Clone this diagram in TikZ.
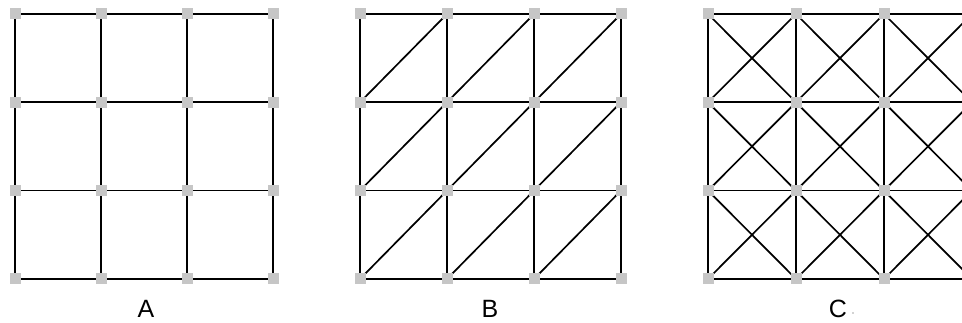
\documentclass[tikz,border=0pt]{standalone}
\usepackage{fontspec}
\setmainfont{Liberation Sans}
\tikzset{
  gridline/.style={line width=1.7pt, black},
  vertexmark/.style={draw=none, fill=gray!45, minimum size=11pt, inner sep=0pt, shape=rectangle},
  panellabel/.style={font=\fontsize{25}{25}\selectfont, anchor=base, inner sep=0pt},
}
\begin{document}
\begin{tikzpicture}[x=1pt,y=-1pt]
\useasboundingbox (0,0) rectangle (962,323);
\clip (0,0) rectangle (962,323);
% row positions
\def\ya{14}\def\yb{102.3}\def\yc{190.6}\def\yd{279}
% ---- coordinates ----
\foreach \p/\xa/\xb/\xc/\xd in {A/15/101/187/273, B/360/447/534/621, C/708/796/884/972}{
  \foreach \i/\xx in {0/\xa,1/\xb,2/\xc,3/\xd}{
    \foreach \j/\yy in {0/\ya,1/\yb,2/\yc,3/\yd}{
      \coordinate (\p-\i-\j) at (\xx,\yy);
    }
  }
}
% ---- grid lines (all panels) ----
\foreach \p in {A,B,C}{
  \foreach \i in {0,1,2,3}{
    \draw[gridline] (\p-\i-0) -- (\p-\i-3);
    \draw[gridline] (\p-0-\i) -- (\p-3-\i);
  }
}
% ---- B diagonals ----
\foreach \i/\ni in {0/1,1/2,2/3}{
  \foreach \j/\nj in {0/1,1/2,2/3}{
    \draw[gridline] (B-\i-\nj) -- (B-\ni-\j);
  }
}
% ---- C diagonals ----
\foreach \i/\ni in {0/1,1/2,2/3}{
  \foreach \j/\nj in {0/1,1/2,2/3}{
    \draw[gridline] (C-\i-\nj) -- (C-\ni-\j);
    \draw[gridline] (C-\i-\j) -- (C-\ni-\nj);
  }
}
% ---- vertex markers ----
\foreach \p in {A,B,C}{
  \foreach \i in {0,1,2,3}{
    \foreach \j in {0,1,2,3}{
      \node[vertexmark] (\p-m-\i-\j) at (\p-\i-\j) {};
    }
  }
}
% ---- labels ----
\node[panellabel] (labA) at (146,318) {A};
\node[panellabel] (labB) at (490,318) {B};
\node[panellabel] (labC) at (838,318) {C};
\fill[gray!70] (853,313) circle (0.9pt);
\end{tikzpicture}
\end{document}
